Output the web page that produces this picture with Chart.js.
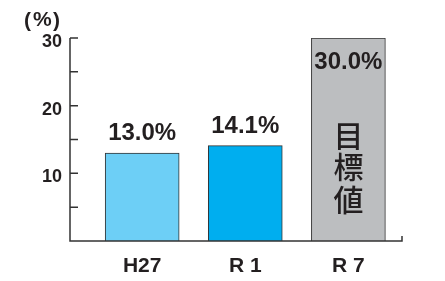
<!DOCTYPE html>
<html>
<head>
<meta charset="utf-8">
<script src="https://cdn.jsdelivr.net/npm/chart.js@4/dist/chart.umd.min.js"></script>
<style>
  body { margin: 0; background: #fff; }
  #wrap { width: 445px; height: 281px; }
</style>
</head>
<body>
<div id="wrap"><canvas id="myChart"></canvas></div>
<script>
const ctx = document.getElementById('myChart');

// data
const labels = ['H27', 'R 1', 'R 7'];
const values = [13.0, 14.1, 30.0];
const positions = [1, 2, 3];
const barColors = ['#6dcff6', '#00aeef', '#bcbec0'];
const yTicks = [10, 20, 30];
const minorTicks = [5, 10, 15, 20, 25, 30];
const targetNote = '目標値';

const ink = '#231f20';
const font = '"Liberation Sans", Arial, sans-serif';

// axes are drawn by hand: ticks point inward, baseline has a small end tick
const axisPlugin = {
  id: 'axisPlugin',
  afterDraw(chart) {
    const c = chart.ctx;
    const ys = chart.scales.y;
    const area = chart.chartArea;
    const x0 = area.left;
    const yTop = ys.getPixelForValue(30);
    const yBot = ys.getPixelForValue(0);
    c.save();
    c.strokeStyle = '#333';
    c.lineWidth = 1.5;
    c.beginPath();
    c.moveTo(x0, yTop);
    c.lineTo(x0, yBot);
    c.lineTo(area.right, yBot);
    c.lineTo(area.right, yBot - 5);
    minorTicks.forEach(v => {
      const y = ys.getPixelForValue(v);
      c.moveTo(x0, y);
      c.lineTo(x0 + 8, y);
    });
    c.stroke();

    // unit
    c.fillStyle = ink;
    c.font = 'bold 21px ' + font;
    c.textAlign = 'left';
    c.textBaseline = 'alphabetic';
    c.fillText('(', 24, 27);
    c.fillText('%', 33, 26);
    c.fillText(')', 53, 27);

    // value labels
    const meta = chart.getDatasetMeta(0);
    c.font = 'bold 24px ' + font;
    c.textAlign = 'center';
    meta.data.forEach((bar, i) => {
      const txt = values[i].toFixed(1) + '%';
      if (values[i] >= 30) {
        c.fillText(txt, bar.x, bar.y + 31);
      } else {
        c.fillText(txt, bar.x, bar.y - 13);
      }
    });

    // vertical note inside the target bar
    const last = meta.data[meta.data.length - 1];
    c.font = '500 30px "Noto Sans CJK JP", sans-serif';
    c.textBaseline = 'middle';
    const ys2 = [136, 167, 200];
    [...targetNote].forEach((ch, k) => {
      c.fillText(ch, last.x, ys2[k]);
    });
    c.restore();
  }
};

new Chart(ctx, {
  type: 'bar',
  data: {
    datasets: [{
      data: positions.map((p, i) => ({ x: p, y: values[i] })),
      backgroundColor: barColors,
      borderColor: '#333',
      borderWidth: 1,
      barThickness: 74
    }]
  },
  options: {
    responsive: true,
    maintainAspectRatio: false,
    animation: false,
    layout: { padding: { top: 38, right: 43, left: 0, bottom: 0 } },
    plugins: {
      legend: { display: false },
      tooltip: { enabled: false }
    },
    scales: {
      x: {
        type: 'linear',
        offset: false,
        min: 0.3,
        max: 3.52,
        grid: { display: false, drawTicks: false, offset: false },
        border: { display: false },
        afterBuildTicks: s => { s.ticks = positions.map(v => ({ value: v })); },
        afterFit: s => { s.height = 40; },
        ticks: {
          padding: 13,
          color: ink,
          font: { family: font, size: 21, weight: 'bold' },
          callback: v => labels[positions.indexOf(v)] || ''
        }
      },
      y: {
        min: 0,
        max: 30,
        grid: { display: false, drawTicks: false },
        border: { display: false },
        afterBuildTicks: s => { s.ticks = yTicks.map(v => ({ value: v })); },
        afterFit: s => { s.width = 70; },
        ticks: {
          padding: 8,
          labelOffset: 4,
          color: ink,
          font: { family: font, size: 18, weight: 'bold' }
        }
      }
    }
  },
  plugins: [axisPlugin]
});
</script>
</body>
</html>
